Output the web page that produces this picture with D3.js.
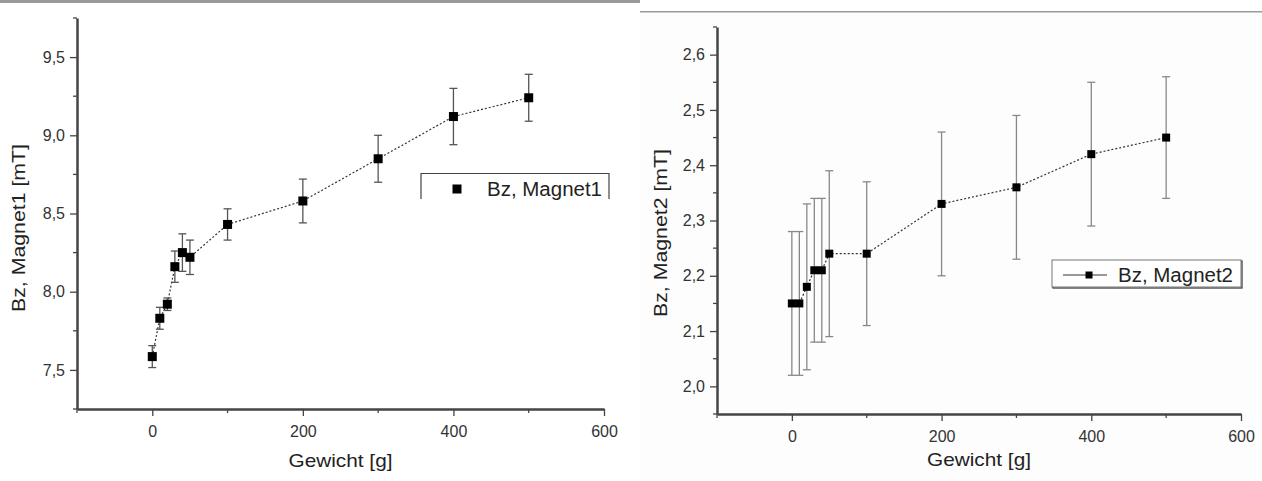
<!DOCTYPE html>
<html>
<head>
<meta charset="utf-8">
<script src="https://cdn.jsdelivr.net/npm/d3@7"></script>
<style>
  body { margin: 0; background: #fff; }
  svg { display: block; font-family: "Liberation Sans", Arial, sans-serif; }
</style>
</head>
<body>
<div id="chart"></div>
<script>
const gewicht = [0, 10, 20, 30, 40, 50, 100, 200, 300, 400, 500];
const magnet1 = [7.585, 7.83, 7.92, 8.16, 8.25, 8.22, 8.43, 8.58, 8.85, 9.12, 9.24];
const magnet1Err = [0.07, 0.07, 0.04, 0.10, 0.12, 0.11, 0.10, 0.14, 0.15, 0.18, 0.15];
const magnet2 = [2.15, 2.15, 2.18, 2.21, 2.21, 2.24, 2.24, 2.33, 2.36, 2.42, 2.45];
const magnet2Err = [0.13, 0.13, 0.15, 0.13, 0.13, 0.15, 0.13, 0.13, 0.13, 0.13, 0.11];

const xTicks = [0, 200, 400, 600];
const xMinor = [-100, 100, 300, 500];
const y1Ticks = [7.5, 8.0, 8.5, 9.0, 9.5];
const y2Ticks = [2.0, 2.1, 2.2, 2.3, 2.4, 2.5, 2.6];

const width = 1262, height = 481;
const svg = d3.select("#chart").append("svg")
    .attr("width", width)
    .attr("height", height);

// top separator lines
svg.append("rect").attr("x", 640).attr("y", 13).attr("width", 622).attr("height", 468).attr("fill", "#fdfdfd");
svg.append("rect").attr("x", 0).attr("y", 0).attr("width", 640).attr("height", 3).attr("fill", "#999");
svg.append("rect").attr("x", 640).attr("y", 11).attr("width", 622).attr("height", 1.5).attr("fill", "#999");

const fmt = v => d3.format(".1f")(v).replace(".", ",");

function panel(opt) {
    const x = d3.scaleLinear().domain([-100, 600]).range(opt.xRange);
    const y = d3.scaleLinear().domain(opt.yDomain).range(opt.yRange);
    const g = svg.append("g");

    // x axis
    const xa = g.append("g").attr("transform", `translate(0,${opt.yRange[0]})`)
        .call(d3.axisBottom(x).tickValues(xTicks).tickSize(7).tickPadding(10).tickSizeOuter(0).tickFormat(d3.format("d")));
    xa.select(".domain").attr("stroke", "#444").attr("stroke-width", 2.5);
    xa.selectAll(".tick line").attr("stroke", "#444").attr("stroke-width", 1.3);
    xa.selectAll(".tick text").attr("fill", "#333").attr("font-size", 16);
    xa.selectAll(".minor").data(xMinor).enter().append("line")
        .attr("x1", d => x(d)).attr("x2", d => x(d)).attr("y1", 0).attr("y2", 4)
        .attr("stroke", "#444").attr("stroke-width", 1.3);

    // y axis
    const ya = g.append("g").attr("transform", `translate(${opt.xRange[0]},0)`)
        .call(d3.axisLeft(y).tickValues(opt.yTicks).tickSize(7).tickPadding(5).tickSizeOuter(0).tickFormat(fmt));
    ya.select(".domain").attr("stroke", "#444").attr("stroke-width", 2.5);
    ya.selectAll(".tick line").attr("stroke", "#444").attr("stroke-width", 1.3);
    ya.selectAll(".tick text").attr("fill", "#333").attr("font-size", 16);
    const step = opt.yTicks[1] - opt.yTicks[0];
    const minor = d3.range(opt.yDomain[0], opt.yDomain[1] + 1e-9, step / 2)
        .filter(v => !opt.yTicks.some(t => Math.abs(t - v) < 1e-6));
    ya.selectAll(".minor").data(minor).enter().append("line")
        .attr("x1", -4).attr("x2", 0).attr("y1", d => y(d)).attr("y2", d => y(d))
        .attr("stroke", "#444").attr("stroke-width", 1.3);

    // labels
    g.append("text")
        .attr("x", opt.xLabelPos[0]).attr("y", opt.xLabelPos[1])
        .attr("text-anchor", "middle").attr("font-size", 19).attr("fill", "#222")
        .attr("textLength", 104).attr("lengthAdjust", "spacingAndGlyphs")
        .text("Gewicht [g]");
    g.append("text")
        .attr("transform", `translate(${opt.yLabelPos[0]},${opt.yLabelPos[1]}) rotate(-90)`)
        .attr("text-anchor", "middle").attr("font-size", 19).attr("fill", "#222")
        .attr("textLength", 168).attr("lengthAdjust", "spacingAndGlyphs")
        .text(opt.yLabel);

    const pts = gewicht.map((w, i) => ({ w, v: opt.values[i], e: opt.errors[i] }));

    // connecting line
    g.append("path")
        .datum(pts)
        .attr("d", d3.line().x(d => x(d.w)).y(d => y(d.v)))
        .attr("fill", "none").attr("stroke", "#333").attr("stroke-width", 1.2)
        .attr("stroke-dasharray", "2,2");

    // error bars
    const eb = g.selectAll(".err").data(pts).enter().append("g").attr("stroke", opt.errColor).attr("stroke-width", 1.3);
    eb.append("line")
        .attr("x1", d => x(d.w)).attr("x2", d => x(d.w))
        .attr("y1", d => y(d.v - d.e)).attr("y2", d => y(d.v + d.e));
    eb.append("line")
        .attr("x1", d => x(d.w) - 4).attr("x2", d => x(d.w) + 4)
        .attr("y1", d => y(d.v - d.e)).attr("y2", d => y(d.v - d.e));
    eb.append("line")
        .attr("x1", d => x(d.w) - 4).attr("x2", d => x(d.w) + 4)
        .attr("y1", d => y(d.v + d.e)).attr("y2", d => y(d.v + d.e));

    // markers
    const s = opt.marker;
    g.selectAll(".pt").data(pts).enter().append("rect")
        .attr("x", d => x(d.w) - s / 2).attr("y", d => y(d.v) - s / 2)
        .attr("width", s).attr("height", s).attr("fill", "#000");
    return g;
}

panel({
    xRange: [77, 604], yRange: [409, 18], yDomain: [7.25, 9.75], yTicks: y1Ticks,
    values: magnet1, errors: magnet1Err, yLabel: "Bz, Magnet1 [mT]", errColor: "#555", marker: 9,
    xLabelPos: [340.5, 467], yLabelPos: [25, 228]
});
panel({
    xRange: [717, 1241], yRange: [414, 27], yDomain: [1.95, 2.65], yTicks: y2Ticks,
    values: magnet2, errors: magnet2Err, yLabel: "Bz, Magnet2 [mT]", errColor: "#888", marker: 8,
    xLabelPos: [979, 466], yLabelPos: [667, 233]
});

// legend 1 (open at the bottom)
const l1 = svg.append("g");
l1.append("path").attr("d", "M421,199 V173.5 H609 V199").attr("fill", "none").attr("stroke", "#444").attr("stroke-width", 1.2);
l1.append("rect").attr("x", 452.5).attr("y", 184.5).attr("width", 9).attr("height", 9).attr("fill", "#000");
l1.append("text").attr("x", 487).attr("y", 196).attr("font-size", 20).attr("fill", "#222")
    .attr("textLength", 115).attr("lengthAdjust", "spacingAndGlyphs").text("Bz, Magnet1");

// legend 2
const l2 = svg.append("g");
l2.append("rect").attr("x", 1053).attr("y", 261).attr("width", 189).attr("height", 27).attr("fill", "none").attr("stroke", "#333").attr("stroke-width", 1.2);
l2.append("rect").attr("x", 1052).attr("y", 260).attr("width", 189).attr("height", 27).attr("fill", "#fff").attr("stroke", "#777").attr("stroke-width", 1);
l2.append("line").attr("x1", 1063).attr("x2", 1107).attr("y1", 275).attr("y2", 275).attr("stroke", "#333").attr("stroke-width", 1);
l2.append("rect").attr("x", 1085.5).attr("y", 271.5).attr("width", 7).attr("height", 7).attr("fill", "#000");
l2.append("text").attr("x", 1118).attr("y", 282).attr("font-size", 20).attr("fill", "#222")
    .attr("textLength", 115).attr("lengthAdjust", "spacingAndGlyphs").text("Bz, Magnet2");
</script>
</body>
</html>
